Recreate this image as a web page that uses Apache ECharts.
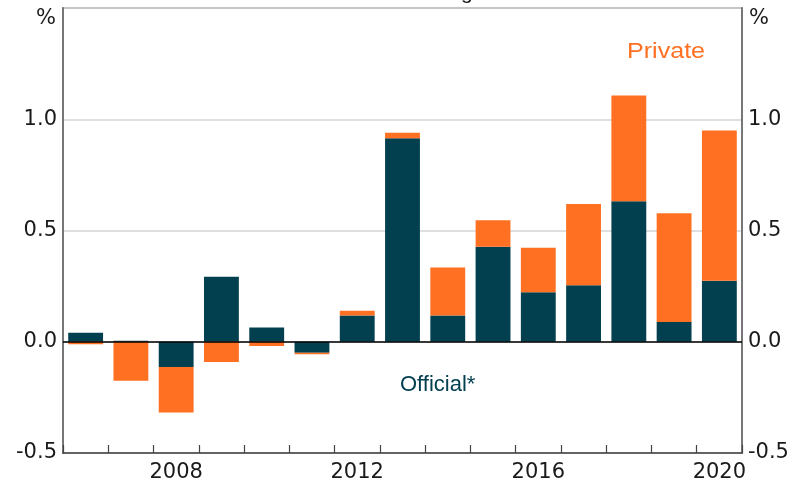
<!DOCTYPE html>
<html>
<head>
<meta charset="utf-8">
<script src="https://cdn.jsdelivr.net/npm/echarts@6/dist/echarts.min.js"></script>
<style>
html,body{margin:0;padding:0;background:#fff;}
#chart{width:787px;height:485px;}
</style>
</head>
<body>
<div id="chart"></div>
<script>
var years = ['2006','2007','2008','2009','2010','2011','2012','2013','2014','2015','2016','2017','2018','2019','2020'];
var official = [0.041, 0.005, -0.113, 0.292, 0.064, -0.049, 0.118, 0.915, 0.118, 0.427, 0.222, 0.254, 0.632, 0.089, 0.274];
var privateVals = [-0.011, -0.175, -0.205, -0.091, -0.019, -0.007, 0.021, 0.024, 0.216, 0.119, 0.201, 0.365, 0.475, 0.488, 0.676];
var yTicks = [-0.5, 0, 0.5, 1.0, 1.5];
var shownYearLabels = ['2008','2012','2016','2020'];

var FONT = 'Liberation Sans, Arial, sans-serif';
var AXFONT = 'DejaVu Sans, sans-serif';
var chart = echarts.init(document.getElementById('chart'), null, {renderer:'canvas'});
var labelFmt = function(v){ return Math.abs(v - 1.5) < 1e-9 ? '' : v.toFixed(1); };
chart.setOption({
  animation:false,
  backgroundColor:'#ffffff',
  grid:{left:63, right:45, top:8, bottom:32, show:true, borderColor:'#777', borderWidth:1.5, backgroundColor:'transparent', containLabel:false, outerBoundsMode:'none'},
  xAxis:{
    type:'category', data:years, boundaryGap:true,
    axisLine:{onZero:false, lineStyle:{color:'#444', width:1.5}},
    axisTick:{show:true, inside:true, length:8, interval:0, alignWithLabel:false, lineStyle:{color:'#444', width:1.2}},
    axisLabel:{interval:0, formatter:function(v){ return shownYearLabels.indexOf(v) >= 0 ? v : ''; }, color:'#1a1a1a', fontFamily:AXFONT, fontSize:21, margin:9},
    splitLine:{show:false}
  },
  yAxis:[{
    type:'value', min:-0.5, max:1.5, interval:0.5, position:'left',
    axisLine:{show:true, lineStyle:{color:'#777', width:2}},
    axisTick:{show:false},
    axisLabel:{formatter:labelFmt, color:'#1a1a1a', fontFamily:AXFONT, fontSize:21, margin:6},
    splitLine:{show:true, lineStyle:{color:'#d4d4d4', width:1.5}}
  },{
    type:'value', min:-0.5, max:1.5, interval:0.5, position:'right',
    axisLine:{show:true, lineStyle:{color:'#777', width:2}},
    axisTick:{show:false},
    axisLabel:{formatter:labelFmt, color:'#1a1a1a', fontFamily:AXFONT, fontSize:21, margin:6},
    splitLine:{show:false}
  }],
  series:[{
    name:'Official*', type:'bar', stack:'total', data:official, barWidth:'77%',
    itemStyle:{color:'#02404f'},
    markLine:{silent:true, symbol:'none', label:{show:false}, lineStyle:{color:'#000', width:1.5, type:'solid'}, data:[{yAxis:0}]},
    z:2
  },{
    name:'Private', type:'bar', stack:'total', data:privateVals, barWidth:'77%',
    itemStyle:{color:'#ff7022'}, z:2
  }],
  graphic:[
    {type:'text', left:36, top:8, style:{text:'%', font:'21px '+AXFONT, fill:'#1a1a1a'}},
    {type:'text', left:749, top:8, style:{text:'%', font:'21px '+AXFONT, fill:'#1a1a1a'}},
    {type:'text', x:627, y:41, scaleX:1.14, style:{text:'Private', font:'22px '+FONT, fill:'#ff7022'}},
    {type:'text', x:400, y:374, style:{text:'Official*', font:'22px '+FONT, fill:'#02404f'}},
    {type:'text', left:461, top:-17, style:{text:'g', font:'21px '+FONT, fill:'#1a1a1a'}}
  ]
});
</script>
</body>
</html>
